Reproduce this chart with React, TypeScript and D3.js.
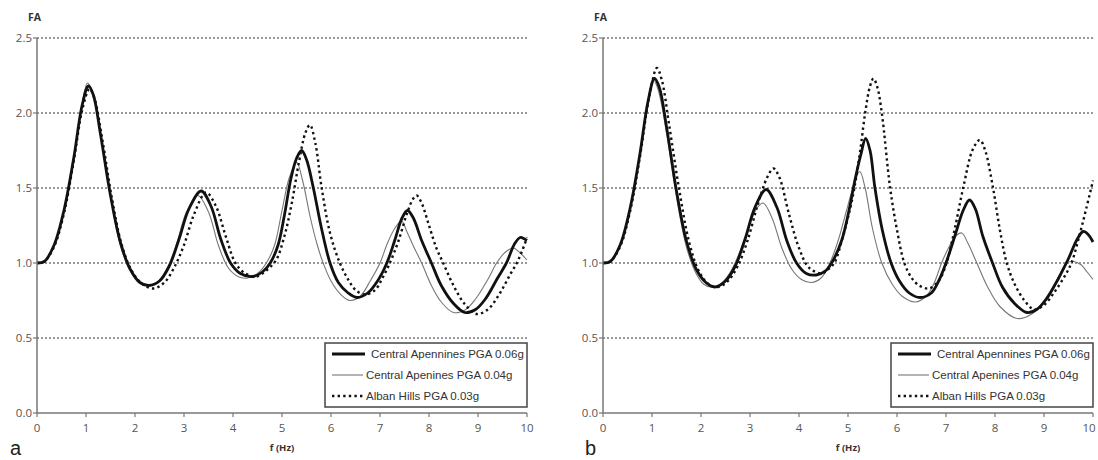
import React from 'react';
import * as d3 from 'd3';

type Pt = [number, number];

const xTickValues = [0, 1, 2, 3, 4, 5, 6, 7, 8, 9, 10];
const yTickValues = [0, 0.5, 1, 1.5, 2, 2.5];
const gridValues = [0.5, 1, 1.5, 2, 2.5];
const seriesLabels = ['Central Apennines PGA 0.06g', 'Central Apenines PGA 0.04g', 'Alban Hills PGA 0.03g'];
const panelLetters = ['a', 'b'];
const yTitle = 'FA';
const xTitle = 'f (Hz)';

// Panel a
const aThick: Pt[] = [[0,1.0],[0.15,1.01],[0.35,1.12],[0.55,1.35],[0.75,1.7],[0.92,2.05],[1.05,2.18],[1.15,2.12],[1.3,1.85],[1.5,1.45],[1.7,1.14],[1.9,0.96],[2.1,0.87],[2.28,0.85],[2.5,0.88],[2.7,0.98],[2.9,1.16],[3.1,1.36],[3.35,1.48],[3.55,1.38],[3.75,1.16],[3.95,1.0],[4.15,0.93],[4.4,0.91],[4.6,0.94],[4.76,1.0],[4.92,1.12],[5.05,1.32],[5.18,1.56],[5.3,1.7],[5.4,1.75],[5.5,1.69],[5.64,1.5],[5.8,1.24],[5.98,1.0],[6.15,0.87],[6.35,0.8],[6.53,0.77],[6.75,0.8],[6.95,0.88],[7.14,1.0],[7.3,1.15],[7.45,1.3],[7.56,1.35],[7.68,1.3],[7.85,1.15],[8.05,1.0],[8.25,0.85],[8.5,0.73],[8.73,0.67],[8.95,0.69],[9.15,0.76],[9.4,0.9],[9.58,1.0],[9.75,1.13],[9.86,1.17],[9.95,1.16],[10,1.15]];
const aThin: Pt[] = [[0,1.0],[0.15,1.01],[0.35,1.12],[0.55,1.35],[0.75,1.7],[0.92,2.06],[1.03,2.2],[1.13,2.14],[1.3,1.85],[1.5,1.44],[1.7,1.12],[1.9,0.95],[2.1,0.87],[2.25,0.85],[2.45,0.87],[2.65,0.96],[2.85,1.13],[3.05,1.34],[3.28,1.45],[3.5,1.34],[3.7,1.12],[3.9,0.97],[4.1,0.91],[4.3,0.9],[4.5,0.93],[4.68,1.0],[4.85,1.12],[5.0,1.35],[5.15,1.57],[5.3,1.67],[5.42,1.55],[5.58,1.3],[5.72,1.12],[5.84,1.0],[6.0,0.88],[6.2,0.79],[6.39,0.75],[6.6,0.78],[6.8,0.88],[7.0,1.0],[7.15,1.13],[7.3,1.23],[7.44,1.28],[7.56,1.2],[7.7,1.1],[7.85,1.0],[8.05,0.85],[8.25,0.74],[8.5,0.67],[8.75,0.69],[8.95,0.76],[9.2,0.89],[9.38,1.0],[9.55,1.07],[9.72,1.1],[9.85,1.07],[10,1.02]];
const aDotted: Pt[] = [[0,1.0],[0.15,1.01],[0.35,1.11],[0.55,1.33],[0.75,1.68],[0.93,2.03],[1.07,2.16],[1.17,2.1],[1.33,1.83],[1.53,1.43],[1.73,1.12],[1.93,0.95],[2.15,0.86],[2.38,0.83],[2.6,0.87],[2.8,0.97],[3.0,1.12],[3.2,1.32],[3.45,1.47],[3.65,1.38],[3.85,1.18],[4.05,1.0],[4.25,0.93],[4.48,0.91],[4.68,0.95],[4.88,1.02],[5.05,1.18],[5.2,1.4],[5.35,1.68],[5.48,1.87],[5.57,1.92],[5.68,1.8],[5.81,1.5],[5.98,1.2],[6.18,1.0],[6.35,0.89],[6.5,0.82],[6.69,0.79],[6.9,0.82],[7.05,0.9],[7.2,1.0],[7.38,1.15],[7.55,1.33],[7.68,1.43],[7.75,1.45],[7.85,1.4],[8.0,1.25],[8.15,1.1],[8.29,1.0],[8.5,0.85],[8.72,0.73],[8.97,0.66],[9.2,0.69],[9.45,0.8],[9.65,0.92],[9.79,1.0],[9.9,1.08],[10,1.17]];

// Panel b
const bThick: Pt[] = [[0,1.0],[0.15,1.01],[0.35,1.12],[0.55,1.36],[0.75,1.72],[0.92,2.08],[1.05,2.23],[1.15,2.17],[1.3,1.9],[1.5,1.48],[1.7,1.15],[1.9,0.96],[2.1,0.87],[2.28,0.84],[2.5,0.88],[2.7,0.98],[2.9,1.16],[3.1,1.37],[3.33,1.49],[3.55,1.37],[3.75,1.15],[3.95,1.0],[4.15,0.93],[4.35,0.92],[4.55,0.95],[4.7,1.02],[4.87,1.15],[5.02,1.35],[5.14,1.55],[5.26,1.72],[5.36,1.83],[5.45,1.75],[5.55,1.5],[5.7,1.22],[5.88,1.0],[6.05,0.88],[6.25,0.8],[6.47,0.77],[6.7,0.8],[6.85,0.88],[7.0,1.0],[7.2,1.2],[7.35,1.35],[7.48,1.42],[7.6,1.36],[7.75,1.18],[7.95,1.0],[8.15,0.84],[8.4,0.73],[8.65,0.67],[8.85,0.69],[9.05,0.76],[9.3,0.9],[9.5,1.03],[9.68,1.16],[9.8,1.21],[9.9,1.19],[10,1.14]];
const bThin: Pt[] = [[0,1.0],[0.15,1.01],[0.35,1.12],[0.55,1.36],[0.75,1.72],[0.92,2.08],[1.03,2.22],[1.13,2.15],[1.3,1.86],[1.5,1.44],[1.7,1.11],[1.9,0.93],[2.05,0.86],[2.2,0.84],[2.4,0.86],[2.6,0.94],[2.8,1.08],[3.0,1.26],[3.15,1.37],[3.27,1.4],[3.45,1.3],[3.65,1.1],[3.85,0.96],[4.05,0.89],[4.25,0.87],[4.45,0.9],[4.63,1.0],[4.8,1.15],[4.97,1.35],[5.1,1.5],[5.24,1.61],[5.35,1.5],[5.5,1.23],[5.69,1.0],[5.9,0.86],[6.1,0.78],[6.37,0.74],[6.6,0.78],[6.75,0.86],[6.91,1.0],[7.05,1.1],[7.2,1.18],[7.32,1.2],[7.45,1.13],[7.63,1.0],[7.85,0.84],[8.1,0.71],[8.45,0.63],[8.75,0.66],[9.0,0.75],[9.25,0.88],[9.46,1.0],[9.6,1.01],[9.75,0.99],[9.88,0.94],[10,0.89]];
const bDotted: Pt[] = [[0,1.0],[0.15,1.01],[0.35,1.11],[0.55,1.34],[0.75,1.7],[0.95,2.12],[1.1,2.3],[1.2,2.22],[1.35,1.92],[1.55,1.5],[1.75,1.15],[1.95,0.95],[2.15,0.86],[2.35,0.84],[2.55,0.88],[2.75,0.98],[2.95,1.15],[3.15,1.38],[3.35,1.57],[3.48,1.63],[3.6,1.57],[3.8,1.32],[4.0,1.1],[4.2,0.97],[4.46,0.93],[4.6,0.96],[4.72,1.0],[4.9,1.18],[5.02,1.33],[5.13,1.5],[5.25,1.75],[5.35,2.0],[5.45,2.18],[5.52,2.23],[5.6,2.17],[5.69,2.0],[5.86,1.5],[6.0,1.22],[6.15,1.0],[6.3,0.9],[6.45,0.85],[6.65,0.83],[6.85,0.88],[7.01,1.0],[7.18,1.23],[7.35,1.5],[7.55,1.76],[7.69,1.82],[7.8,1.75],[7.96,1.5],[8.1,1.22],[8.24,1.0],[8.4,0.86],[8.6,0.75],[8.8,0.69],[9.0,0.72],[9.2,0.8],[9.4,0.9],[9.56,1.0],[9.72,1.18],[9.86,1.36],[10,1.55]];

const seriesStyles = [
  { stroke: '#111', width: 2.8, dash: undefined as string | undefined },
  { stroke: '#777', width: 1.1, dash: undefined as string | undefined },
  { stroke: '#111', width: 2.4, dash: '2.4 3.2' },
];

const PLOT_W = 490;
const Y_TOP = 38;
const Y_BOT = 413;

function Panel({ ox, letterX, letter, series }: { ox: number; letterX: number; letter: string; series: Pt[][] }) {
  const x = d3.scaleLinear().domain([0, 10]).range([ox, ox + PLOT_W]);
  const y = d3.scaleLinear().domain([0, 2.5]).range([Y_BOT, Y_TOP]);
  const line = d3.line<Pt>().x(d => x(d[0])).y(d => y(d[1])).curve(d3.curveCatmullRom.alpha(0.5));
  const lgRight = x(10);
  const lgLeft = lgRight - 202;
  const lgTop = 343;
  const rows = [354, 375, 396];
  const order = [1, 2, 0];
  return (
    <g>
      {gridValues.map(v => (
        <line key={'g' + v} x1={ox} x2={x(10)} y1={y(v)} y2={y(v)} stroke="#333" strokeWidth={1} strokeDasharray="2 2" />
      ))}
      {order.map(i => (
        <path key={'s' + i} d={line(series[i]) || ''} fill="none" stroke={seriesStyles[i].stroke}
          strokeWidth={seriesStyles[i].width} strokeDasharray={seriesStyles[i].dash} strokeLinejoin="round" />
      ))}
      <line x1={ox} x2={ox} y1={Y_TOP} y2={Y_BOT} stroke="#777" strokeWidth={1.5} />
      <line x1={ox} x2={x(10)} y1={Y_BOT} y2={Y_BOT} stroke="#777" strokeWidth={1.5} />
      {yTickValues.map(v => (
        <g key={'yt' + v}>
          <line x1={ox - 4} x2={ox} y1={y(v)} y2={y(v)} stroke="#777" strokeWidth={1.2} />
          <text x={ox - 5} y={y(v)} dy="0.35em" textAnchor="end" fontFamily="'Open Sans', sans-serif" fontSize={11.5} fill="#555">{d3.format('.1f')(v)}</text>
        </g>
      ))}
      {xTickValues.map(v => (
        <g key={'xt' + v}>
          <line x1={x(v)} x2={x(v)} y1={Y_BOT} y2={Y_BOT + 4} stroke="#777" strokeWidth={1.2} />
          <text x={Math.min(x(v), 1089)} y={432} textAnchor="middle" fontFamily="'Open Sans', sans-serif" fontSize={11.5} fill="#555">{v}</text>
        </g>
      ))}
      <text x={ox - 9} y={21} fontFamily="'Open Sans', sans-serif" fontWeight="bold" fontSize={10.5} fill="#333">{yTitle}</text>
      <text x={x(5)} y={451} textAnchor="middle" fontFamily="'Open Sans', sans-serif" fontWeight="bold" fontSize={9.5} fill="#333">{xTitle}</text>
      <text x={letterX} y={455} fontFamily="'Liberation Sans', Arial, sans-serif" fontSize={20} fill="#222">{letter}</text>
      <rect x={lgLeft} y={lgTop} width={202} height={64} fill="#fff" stroke="#444" strokeWidth={1.5} />
      {rows.map((ry, i) => (
        <g key={'lg' + i}>
          <line x1={lgLeft + 7} x2={lgLeft + (i === 0 ? 40 : 38)} y1={ry} y2={ry} stroke={seriesStyles[i].stroke}
            strokeWidth={seriesStyles[i].width} strokeDasharray={seriesStyles[i].dash} />
          <text x={lgLeft + (i === 0 ? 46 : 41)} y={ry} dy="0.35em" fontFamily="'Liberation Sans', Arial, sans-serif" fontSize={11.5} fill="#333">{seriesLabels[i]}</text>
        </g>
      ))}
    </g>
  );
}

export default function App() {
  return (
    <svg width={1098} height={460} style={{ position: 'absolute', left: 0, top: 0, background: '#fff' }}>
      <rect x={0} y={0} width={1098} height={460} fill="#fff" />
      <Panel ox={37} letterX={10} letter={panelLetters[0]} series={[aThick, aThin, aDotted]} />
      <Panel ox={603} letterX={585} letter={panelLetters[1]} series={[bThick, bThin, bDotted]} />
    </svg>
  );
}
